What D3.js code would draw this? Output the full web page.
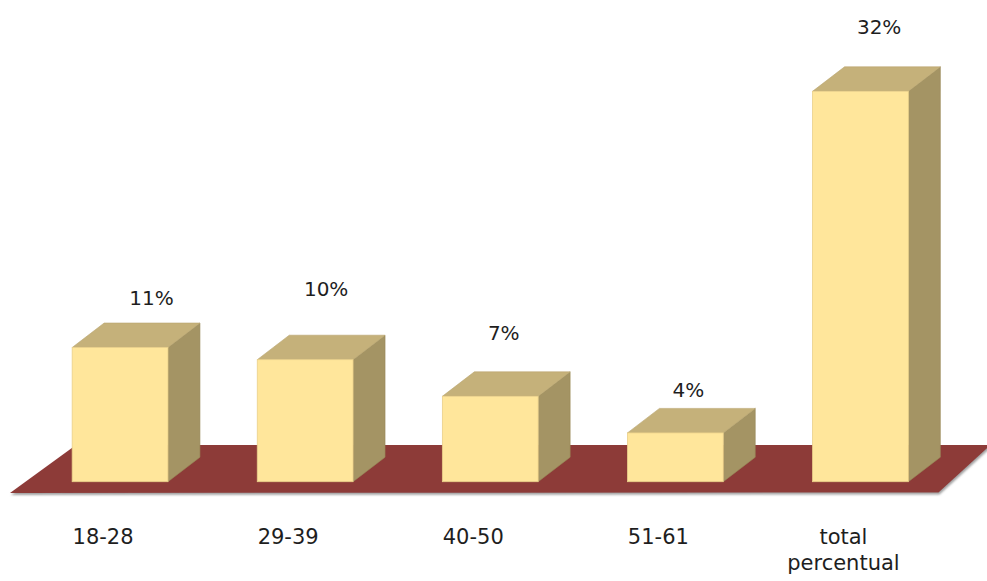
<!DOCTYPE html>
<html>
<head>
<meta charset="utf-8">
<script src="https://cdn.jsdelivr.net/npm/d3@7/dist/d3.min.js"></script>
<style>
  html, body { margin: 0; padding: 0; background: #ffffff; }
  svg { display: block; }
</style>
</head>
<body>
<script>
// ---- data ----
const categories = ["18-28", "29-39", "40-50", "51-61", "total percentual"];
const values = [11, 10, 7, 4, 32];
const valueLabels = ["11%", "10%", "7%", "4%", "32%"];
// manual nudges of the data labels (as placed in the original)
const labelNudgeX = [15.5, 5, -2.5, -3, 2.7];
const labelNudgeY = [1.3, -19.6, -12.7, 8.4, -13.4];

// ---- layout ----
const W = 987, H = 581;
const baseY = 481.7;           // front bottom of bars
const depthDx = 32, depthDy = -24.5;
const floorFrontY = 493, floorBackY = 445;
const floorBackLeftDx = 66, floorBackRightDx = 52;
const frontShift = 17;         // bar front face offset from band start

const svg = d3.select("body").append("svg").attr("width", W).attr("height", H);

const defs = svg.append("defs");
const f = defs.append("filter").attr("id", "shadow")
  .attr("x", "-5%").attr("y", "-20%").attr("width", "110%").attr("height", "150%");
f.append("feDropShadow").attr("dx", 1).attr("dy", 2).attr("stdDeviation", 1.3)
  .attr("flood-color", "#6e6e6e").attr("flood-opacity", 0.65);

const x = d3.scaleBand().domain(categories).range([10.5, 936])
  .paddingInner(0.4825).paddingOuter(0.24125);
const y = d3.scaleLinear().domain([0, 35]).range([baseY, baseY - 35 * 12.2]);

// floor
const r = x.range();
const floorPts = [
  [r[0] - 0.5, floorFrontY],
  [r[1] + 2.5, floorFrontY - 0.5],
  [r[1] + 2.5 + floorBackRightDx, floorBackY],
  [r[0] - 0.5 + floorBackLeftDx, floorBackY]
];
svg.append("polygon")
  .attr("points", floorPts.map(p => p.join(",")).join(" "))
  .attr("fill", "#8D3A38")
  .attr("filter", "url(#shadow)");

// bars
const bw = x.bandwidth();
const bars = svg.append("g").selectAll("g").data(categories).join("g");
bars.each(function(c, i) {
  const g = d3.select(this);
  const x0 = x(c) + frontShift, x1 = x0 + bw;
  const yt = y(values[i]), yb = y(0);
  // side face
  g.append("polygon")
    .attr("points", [[x1, yb], [x1 + depthDx, yb + depthDy], [x1 + depthDx, yt + depthDy], [x1, yt]]
      .map(p => p.join(",")).join(" "))
    .attr("fill", "#A49464").attr("stroke", "#978858").attr("stroke-width", 0.6);
  // top face
  g.append("polygon")
    .attr("points", [[x0, yt], [x0 + depthDx, yt + depthDy], [x1 + depthDx, yt + depthDy], [x1, yt]]
      .map(p => p.join(",")).join(" "))
    .attr("fill", "#C5B17A").attr("stroke", "#B8A46E").attr("stroke-width", 0.6);
  // front face
  g.append("rect")
    .attr("x", x0).attr("y", yt).attr("width", bw).attr("height", yb - yt)
    .attr("fill", "#FFE69B").attr("stroke", "#EAD08A").attr("stroke-width", 0.8);
});

// data labels
svg.append("g").selectAll("text").data(categories).join("text")
  .attr("x", (c, i) => x(c) + frontShift + bw / 2 + depthDx / 2 + labelNudgeX[i])
  .attr("y", (c, i) => y(values[i]) - 44 + labelNudgeY[i])
  .attr("text-anchor", "middle")
  .attr("font-family", "DejaVu Sans, Verdana, sans-serif")
  .attr("font-size", 20)
  .attr("fill", "#1e1e1e")
  .text((c, i) => valueLabels[i]);

// category labels
const cat = svg.append("g").selectAll("text").data(categories).join("text")
  .attr("text-anchor", "middle")
  .attr("font-family", "DejaVu Sans, Verdana, sans-serif")
  .attr("font-size", 21)
  .attr("fill", "#1e1e1e");
cat.each(function(c) {
  const t = d3.select(this);
  c.split(" ").forEach((line, k) => {
    t.append("tspan")
      .attr("x", x(c) + bw / 2)
      .attr("y", 544 + k * 26)
      .text(line);
  });
});
</script>
</body>
</html>
